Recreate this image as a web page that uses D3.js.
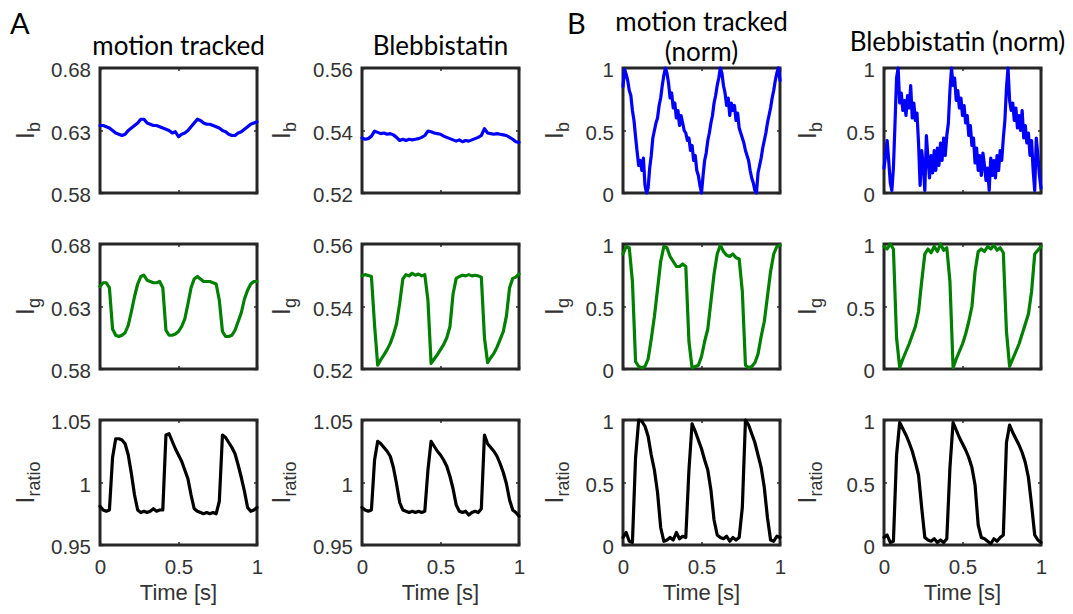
<!DOCTYPE html>
<meta charset="utf-8">
<html>
<head>
  <style>
    body { margin: 0; background: #fff; }
    .tick text { font: 20.5px "Liberation Sans", Arial, sans-serif; fill: #333; }
    .tick line { stroke: #262626; stroke-width: 1.5px; }
    .title { font: 26px Lato, "Open Sans", sans-serif; fill: #000; text-anchor: middle; }
    .letter { font: 29px Lato, "Open Sans", sans-serif; fill: #000; }
    .ylab { font: 26px "Liberation Sans", Arial, sans-serif; fill: #333; text-anchor: middle; }
    .xlab { font: 22px "Liberation Sans", Arial, sans-serif; fill: #333; text-anchor: middle; }
    .frame { fill: none; stroke: #262626; stroke-width: 3px; }
    .trace { fill: none; stroke-width: 3.2px; stroke-linejoin: round; stroke-linecap: round; }
  </style>
</head>
<body>
<svg width="1073" height="614"></svg>

<script src="https://d3js.org/d3.v7.min.js"></script>
<script>

// column titles and row labels
const colTitles = [["motion tracked"], ["Blebbistatin"], ["motion tracked", "(norm)"], ["Blebbistatin (norm)"]];
const rowSubs = ["b", "g", "ratio"];
const rowColors = ["#0000ff", "#008000", "#000000"];

// y domains [row][col] and tick labels
const yDomains = [
  [[0.58, 0.68], [0.52, 0.56], [0, 1], [0, 1]],
  [[0.58, 0.68], [0.52, 0.56], [0, 1], [0, 1]],
  [[0.95, 1.05], [0.95, 1.05], [0, 1], [0, 1]]
];
const yTickVals = [
  [[0.58, 0.63, 0.68], [0.52, 0.54, 0.56], [0, 0.5, 1], [0, 0.5, 1]],
  [[0.58, 0.63, 0.68], [0.52, 0.54, 0.56], [0, 0.5, 1], [0, 0.5, 1]],
  [[0.95, 1, 1.05], [0.95, 1, 1.05], [0, 0.5, 1], [0, 0.5, 1]]
];
const yTickLabels = [
  [["0.58", "0.63", "0.68"], ["0.52", "0.54", "0.56"], ["0", "0.5", "1"], ["0", "0.5", "1"]],
  [["0.58", "0.63", "0.68"], ["0.52", "0.54", "0.56"], ["0", "0.5", "1"], ["0", "0.5", "1"]],
  [["0.95", "1", "1.05"], ["0.95", "1", "1.05"], ["0", "0.5", "1"], ["0", "0.5", "1"]]
];
const xTickVals = [0, 0.5, 1];
const xTickLabels = ["0", "0.5", "1"];

// traces, sampled evenly over 0..1 s
const ibMotion = [0.634,0.634,0.633,0.632,0.630,0.628,0.627,0.626,0.627,0.630,0.632,0.634,0.636,0.639,0.639,0.636,0.635,0.634,0.634,0.633,0.632,0.631,0.630,0.628,0.629,0.625,0.627,0.628,0.630,0.633,0.636,0.639,0.638,0.636,0.635,0.635,0.634,0.633,0.632,0.630,0.629,0.627,0.626,0.626,0.628,0.629,0.631,0.633,0.635,0.636,0.637];
const ibBleb = [0.5376,0.5372,0.5374,0.5382,0.5398,0.5394,0.5390,0.5392,0.5388,0.5390,0.5386,0.5378,0.5368,0.5372,0.5368,0.5372,0.5370,0.5372,0.5374,0.5378,0.5384,0.5398,0.5396,0.5392,0.5390,0.5388,0.5382,0.5378,0.5374,0.5370,0.5366,0.5370,0.5364,0.5368,0.5366,0.5370,0.5374,0.5378,0.5384,0.5406,0.5392,0.5390,0.5388,0.5390,0.5388,0.5386,0.5384,0.5378,0.5372,0.5364,0.5362];
const ibMotionNorm = [0.85,0.99,0.95,0.90,0.82,0.78,0.66,0.58,0.45,0.33,0.22,0.26,0.18,0.28,0.06,0.00,0.04,0.20,0.30,0.44,0.50,0.56,0.60,0.70,0.76,0.86,0.94,1.00,0.96,0.88,0.76,0.80,0.68,0.72,0.60,0.66,0.54,0.62,0.56,0.50,0.48,0.42,0.44,0.34,0.38,0.26,0.30,0.18,0.14,0.06,0.00,0.14,0.26,0.32,0.42,0.48,0.56,0.62,0.72,0.78,0.86,0.92,1.00,0.96,0.86,0.80,0.70,0.76,0.62,0.72,0.66,0.70,0.58,0.64,0.52,0.48,0.44,0.40,0.34,0.30,0.26,0.18,0.12,0.08,0.02,0.00,0.16,0.22,0.28,0.36,0.42,0.48,0.56,0.62,0.68,0.76,0.82,0.90,0.96,1.00,0.90];
const ibBlebNorm = [0.20,0.30,0.42,0.26,0.08,0.02,0.20,0.55,0.92,1.00,0.72,0.80,0.66,0.74,0.62,0.78,0.68,0.86,0.60,0.72,0.58,0.64,0.40,0.06,0.34,0.22,0.02,0.46,0.28,0.12,0.30,0.16,0.34,0.18,0.36,0.22,0.40,0.26,0.44,0.30,0.46,0.56,0.82,1.00,0.86,0.92,0.74,0.82,0.68,0.76,0.62,0.70,0.56,0.62,0.46,0.54,0.38,0.44,0.24,0.36,0.18,0.30,0.14,0.32,0.22,0.10,0.20,0.02,0.28,0.14,0.26,0.12,0.30,0.18,0.34,0.26,0.44,0.58,0.84,1.00,0.74,0.66,0.72,0.58,0.68,0.52,0.62,0.50,0.66,0.44,0.54,0.40,0.48,0.30,0.42,0.18,0.02,0.44,0.30,0.14,0.04];

const igMotion = [0.646,0.649,0.649,0.645,0.612,0.607,0.606,0.607,0.609,0.615,0.626,0.638,0.648,0.654,0.655,0.651,0.650,0.649,0.649,0.650,0.645,0.611,0.607,0.607,0.608,0.610,0.614,0.620,0.632,0.645,0.652,0.654,0.652,0.650,0.650,0.650,0.649,0.648,0.635,0.610,0.606,0.606,0.607,0.611,0.618,0.625,0.636,0.643,0.648,0.650,0.650];
const igBleb = [0.5498,0.5502,0.5499,0.5496,0.5340,0.5212,0.5230,0.5245,0.5262,0.5282,0.5310,0.5345,0.5410,0.5488,0.5502,0.5498,0.5506,0.5500,0.5504,0.5498,0.5502,0.5420,0.5218,0.5232,0.5246,0.5262,0.5278,0.5300,0.5335,0.5440,0.5490,0.5496,0.5500,0.5498,0.5502,0.5498,0.5500,0.5498,0.5494,0.5300,0.5220,0.5236,0.5250,0.5270,0.5295,0.5320,0.5370,0.5460,0.5490,0.5494,0.5504];
const igMotionNorm = [0.92,0.98,0.97,0.70,0.06,0.02,0.01,0.02,0.08,0.24,0.42,0.64,0.86,0.98,0.97,0.90,0.86,0.82,0.82,0.84,0.82,0.22,0.01,0.02,0.03,0.10,0.22,0.32,0.54,0.76,0.92,0.99,0.94,0.91,0.90,0.92,0.89,0.88,0.62,0.03,0.01,0.02,0.05,0.12,0.26,0.38,0.58,0.78,0.92,0.98,0.99];
const igBlebNorm = [0.98,0.96,1.00,0.96,0.25,0.01,0.08,0.14,0.20,0.27,0.34,0.46,0.70,0.92,0.96,0.93,0.98,0.94,1.00,0.95,0.97,0.70,0.01,0.08,0.14,0.20,0.28,0.38,0.50,0.78,0.94,0.96,0.94,0.98,0.96,0.99,0.95,0.97,0.93,0.30,0.02,0.08,0.14,0.20,0.28,0.36,0.44,0.62,0.92,0.95,0.98];

const ratioMotion = [0.981,0.978,0.977,0.978,1.020,1.035,1.035,1.034,1.031,1.022,1.007,0.990,0.978,0.976,0.977,0.976,0.977,0.979,0.977,0.978,0.978,1.038,1.039,1.033,1.027,1.022,1.017,1.010,1.003,0.990,0.979,0.977,0.976,0.975,0.976,0.975,0.976,0.975,0.985,1.038,1.036,1.032,1.028,1.023,1.014,1.004,0.993,0.980,0.977,0.978,0.980];
const ratioBleb = [0.980,0.978,0.977,0.978,1.018,1.033,1.031,1.028,1.025,1.021,1.012,0.999,0.984,0.978,0.977,0.976,0.977,0.976,0.977,0.976,0.977,1.010,1.033,1.029,1.025,1.022,1.018,1.013,1.005,0.995,0.982,0.977,0.976,0.977,0.974,0.976,0.977,0.976,0.979,1.038,1.031,1.028,1.025,1.021,1.015,1.008,0.999,0.986,0.978,0.976,0.973];
const ratioMotionNorm = [0.06,0.10,0.03,0.02,0.70,1.00,0.99,0.95,0.87,0.72,0.60,0.42,0.14,0.03,0.04,0.06,0.04,0.10,0.05,0.07,0.06,0.60,0.97,0.91,0.84,0.77,0.68,0.60,0.44,0.20,0.08,0.06,0.05,0.07,0.03,0.06,0.04,0.06,0.30,1.00,0.96,0.89,0.82,0.72,0.62,0.46,0.22,0.04,0.03,0.07,0.06];
const ratioBlebNorm = [0.06,0.08,0.02,0.03,0.72,0.98,0.93,0.88,0.82,0.75,0.66,0.56,0.30,0.06,0.04,0.03,0.05,0.02,0.04,0.02,0.05,0.62,0.98,0.92,0.86,0.81,0.76,0.70,0.62,0.48,0.16,0.06,0.05,0.03,0.01,0.05,0.03,0.06,0.08,0.82,0.96,0.90,0.85,0.80,0.74,0.66,0.54,0.32,0.08,0.04,0.02];

const series = [
  [ibMotion, ibBleb, ibMotionNorm, ibBlebNorm],
  [igMotion, igBleb, igMotionNorm, igBlebNorm],
  [ratioMotion, ratioBleb, ratioMotionNorm, ratioBlebNorm]
];

// layout
const colX = [100, 362, 623, 884];
const rowY = [68, 244, 420];
const pw = 157, ph = 125;
const ylabOffset = [66, 72, 60, 68];
const titleShift = [0, 0, 0, -5];
const titleBase = [55, 55, 61, 51];

const svg = d3.select("svg");

colX.forEach((cx, c) => {
  rowY.forEach((ry, r) => {
    const g = svg.append("g").attr("transform", `translate(${cx},${ry})`);
    const x = d3.scaleLinear().domain([0, 1]).range([0, pw]);
    const y = d3.scaleLinear().domain(yDomains[r][c]).range([ph, 0]);
    const labels = yTickLabels[r][c];

    const left = g.append("g").call(d3.axisLeft(y).tickValues(yTickVals[r][c])
      .tickSize(-3).tickPadding(9).tickFormat((d, i) => labels[i]));
    left.selectAll("text").attr("dy", "0.42em");
    g.append("g").attr("transform", `translate(${pw},0)`)
      .call(d3.axisRight(y).tickValues(yTickVals[r][c]).tickSize(-3).tickFormat(""));
    g.append("g").call(d3.axisTop(x).tickValues(xTickVals).tickSize(-3).tickFormat(""));
    g.append("g").attr("transform", `translate(0,${ph})`)
      .call(d3.axisBottom(x).tickValues(xTickVals).tickSize(-3).tickPadding(14)
        .tickFormat((d, i) => r === 2 ? xTickLabels[i] : ""));
    g.selectAll(".domain").remove();

    g.append("rect").attr("class", "frame").attr("width", pw).attr("height", ph);

    const vals = series[r][c];
    const line = d3.line()
      .x((d, i) => x(i / (vals.length - 1)))
      .y(d => y(d));
    g.append("path").attr("class", "trace")
      .attr("stroke", rowColors[r])
      .attr("d", line(vals));

    // y label
    const yl = svg.append("text").attr("class", "ylab")
      .attr("transform", `translate(${cx - ylabOffset[c]},${ry + ph / 2}) rotate(-90)`);
    yl.append("tspan").text("I");
    yl.append("tspan").attr("dy", "0.35em").attr("font-size", 18).text(rowSubs[r]);

    if (r === 2) {
      svg.append("text").attr("class", "xlab")
        .attr("x", cx + pw / 2).attr("y", 600).text("Time [s]");
    }
  });

  // column title
  const lines = colTitles[c];
  const tx = cx + pw / 2 + titleShift[c];
  const t = svg.append("text").attr("class", "title");
  if (lines.length === 1) {
    t.attr("x", tx).attr("y", titleBase[c]).text(lines[0]);
  } else {
    t.append("tspan").attr("x", tx).attr("y", titleBase[c] - 30).text(lines[0]);
    t.append("tspan").attr("x", tx).attr("y", titleBase[c]).text(lines[1]);
  }
});

svg.append("text").attr("class", "letter").attr("x", 10).attr("y", 34).text("A");
svg.append("text").attr("class", "letter").attr("x", 567).attr("y", 34).text("B");

</script>
</body>
</html>
